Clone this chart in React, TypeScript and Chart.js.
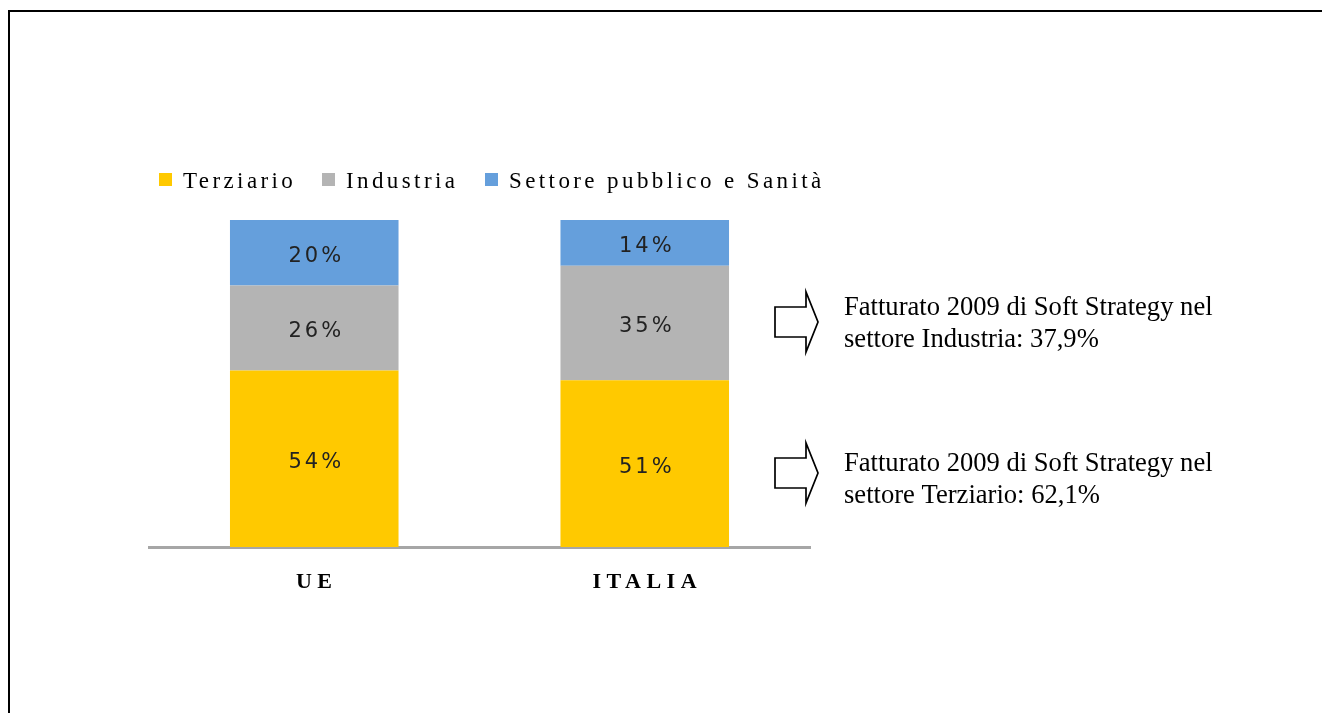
import React, { useEffect, useRef } from "react";
import { Chart, registerables } from "chart.js";

Chart.register(...registerables);

const categories = ["UE", "ITALIA"];
const seriesNames = ["Terziario", "Industria", "Settore pubblico e Sanità"];
const terziario = [54, 51];
const industria = [26, 35];
const pubblico = [20, 14];
const seriesColors = ["rgb(255,201,0)", "rgb(180,180,180)", "rgb(101,159,220)"];
const notes = [
  ["Fatturato 2009 di Soft Strategy nel", "settore Industria: 37,9%"],
  ["Fatturato 2009 di Soft Strategy nel", "settore Terziario: 62,1%"],
];

const W = 1322;
const H = 713;

const decorPlugin = {
  id: "decor",
  afterDraw(chart: any) {
    const ctx = chart.ctx as CanvasRenderingContext2D;
    const xScale = chart.scales.x;

    // frame
    ctx.save();
    ctx.strokeStyle = "#000";
    ctx.lineWidth = 2;
    ctx.beginPath();
    ctx.moveTo(9, H + 5);
    ctx.lineTo(9, 11);
    ctx.lineTo(W + 5, 11);
    ctx.stroke();
    ctx.restore();

    // data labels
    ctx.save();
    (ctx as any).letterSpacing = "3px";
    ctx.font = "21px 'DejaVu Sans'";
    ctx.fillStyle = "#222";
    ctx.textAlign = "center";
    ctx.textBaseline = "middle";
    chart.data.datasets.forEach((ds: any, di: number) => {
      const meta = chart.getDatasetMeta(di);
      meta.data.forEach((bar: any, i: number) => {
        const p = bar.getProps(["x", "y", "base"], true);
        const cy = (p.y + p.base) / 2 + 4;
        ctx.fillText(ds.data[i] + "%", p.x + 2, cy);
      });
    });
    ctx.restore();

    // category labels
    ctx.save();
    (ctx as any).letterSpacing = "5.5px";
    ctx.font = "bold 22px 'Liberation Serif'";
    ctx.fillStyle = "#000";
    ctx.textAlign = "center";
    ctx.textBaseline = "alphabetic";
    categories.forEach((c, i) => {
      ctx.fillText(c, xScale.getPixelForValue(i) + 2.5, 588);
    });
    ctx.restore();

    // legend
    ctx.save();
    (ctx as any).letterSpacing = "3.4px";
    ctx.font = "23px 'Liberation Serif'";
    ctx.textBaseline = "alphabetic";
    ctx.textAlign = "left";
    const legendX = [159, 322, 485];
    seriesNames.forEach((n, i) => {
      ctx.fillStyle = seriesColors[i];
      ctx.fillRect(legendX[i], 173, 13, 13);
      ctx.fillStyle = "#000";
      ctx.fillText(n, legendX[i] + 24, 188);
    });
    ctx.restore();

    // arrows
    const arrowCenters = [322, 473];
    ctx.save();
    ctx.strokeStyle = "#000";
    ctx.lineWidth = 1.7;
    ctx.lineJoin = "miter";
    arrowCenters.forEach((cy) => {
      ctx.beginPath();
      ctx.moveTo(775, cy - 15);
      ctx.lineTo(806, cy - 15);
      ctx.lineTo(806, cy - 30);
      ctx.lineTo(818, cy);
      ctx.lineTo(806, cy + 30);
      ctx.lineTo(806, cy + 15);
      ctx.lineTo(775, cy + 15);
      ctx.closePath();
      ctx.stroke();
    });
    ctx.restore();

    // notes
    ctx.save();
    ctx.font = "26.6px 'Liberation Serif'";
    ctx.fillStyle = "#000";
    ctx.textAlign = "left";
    ctx.textBaseline = "alphabetic";
    const baselines = [315, 471];
    notes.forEach((lines, i) => {
      lines.forEach((l, j) => {
        ctx.fillText(l, 844, baselines[i] + j * 31.5);
      });
    });
    ctx.restore();
  },
};

export default function App() {
  const ref = useRef<HTMLCanvasElement>(null);
  useEffect(() => {
    if (!ref.current) return;
    const chart = new Chart(ref.current, {
      type: "bar",
      data: {
        labels: categories,
        datasets: [
          { label: seriesNames[0], data: terziario, backgroundColor: seriesColors[0] },
          { label: seriesNames[1], data: industria, backgroundColor: seriesColors[1] },
          { label: seriesNames[2], data: pubblico, backgroundColor: seriesColors[2] },
        ],
      },
      options: {
        responsive: false,
        animation: false,
        devicePixelRatio: 1,
        layout: { padding: { left: 149, right: W - 810, top: 220, bottom: H - 547 } },
        datasets: { bar: { barPercentage: 0.51, categoryPercentage: 1, borderWidth: 0 } },
        plugins: { legend: { display: false }, tooltip: { enabled: false } },
        scales: {
          x: {
            stacked: true,
            grid: { display: false, drawTicks: false },
            ticks: { display: false },
            border: { display: true, color: "#a6a6a6", width: 3 },
            afterFit: (s: any) => { s.height = 0; },
          },
          y: {
            stacked: true,
            display: false,
            min: 0,
            max: 100,
          },
        },
      },
      plugins: [decorPlugin],
    });
    return () => chart.destroy();
  }, []);
  return (
    <div style={{ position: "fixed", left: 0, top: 0, width: W, height: H, background: "#fff" }}>
      <canvas ref={ref} width={W} height={H} style={{ display: "block" }} />
    </div>
  );
}
